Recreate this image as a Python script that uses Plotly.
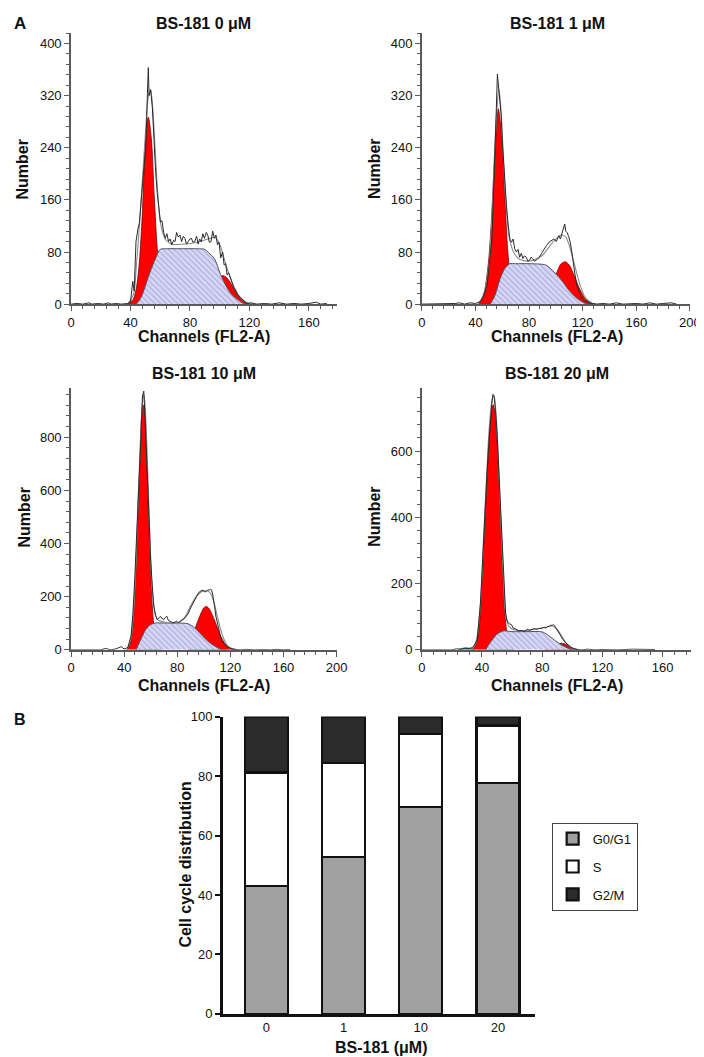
import plotly.graph_objects as go

# ---------------- DATA ----------------
# Panel 1: BS-181 0 uM
p1_data_ch = [0, 4, 8, 12, 14, 18, 22, 25, 27, 30, 34, 38, 40, 41.5, 42.5, 43.7, 45, 46, 48, 50.3,
              51.4, 52, 52.5, 53.6, 54.7, 55.8, 57, 58, 59, 60.1, 61.2, 62.3, 63.4, 64.5, 65.6, 66.7,
              67.8, 69, 70, 71, 72.2, 73.3, 74.4, 75.5, 76.6, 77.7, 78.8, 80, 81, 82, 83.2, 84.5, 85.5,
              86.5, 87.6, 88.7, 89.8, 91, 92, 93, 94.2, 95.3, 96.4, 97.5, 98.5, 99.6, 100.7, 102, 103,
              104, 105, 106, 107.3, 108.5, 109.5, 110.6, 111.7, 113, 114, 115, 116, 118.3, 121, 125,
              130, 135, 140, 145, 150, 155, 160, 165, 168, 172]
p1_data_val = [0, 1, 0, 2, 0, 1, 0, 2, 0, 1, 0, 1, 3, 35, 20, 96, 115, 125, 181, 242,
               323, 363, 320, 328, 302, 242, 200, 171, 150, 126, 128, 110, 101, 108, 96, 100,
               91, 98, 96, 110, 103, 106, 96, 104, 101, 92, 96, 100, 101, 95, 96, 104, 92,
               100, 96, 108, 101, 110, 106, 95, 96, 112, 101, 106, 91, 95, 71, 80, 60,
               62, 45, 48, 40, 32, 25, 22, 15, 12, 10, 7, 5, 1, 2, 0,
               1, 0, 2, 0, 1, 0, 1, 3, 0, 1]
p1_fit_ch = [38, 42, 44, 46, 48, 50, 52, 53.5, 55, 57, 59, 61, 64, 68, 75, 85, 92, 97, 100, 103,
             106, 110, 114, 118, 122]
p1_fit_val = [0, 15, 60, 120, 190, 260, 318, 330, 300, 220, 150, 115, 98, 92, 92, 95, 100, 102, 92, 70,
              48, 25, 10, 3, 0]
p1_g1_ch = [38, 40, 42, 44, 46, 48, 50, 52, 54, 56, 58, 60, 62, 64]
p1_g1_val = [0, 3, 8, 25, 65, 140, 245, 287, 255, 165, 85, 38, 12, 0]
p1_s_ch = [43.7, 46, 48, 50, 52.5, 55, 57, 60, 65, 75, 85, 90, 93, 96.4, 100.7, 105, 108, 111.7, 116, 118]
p1_s_val = [0, 6, 15, 28, 45, 60, 71, 84, 85, 85, 85, 84, 78, 70, 45, 25, 15, 7.5, 1, 0]
p1_g2_ch = [90, 94, 98, 100, 102, 104, 106, 108, 112, 116, 120]
p1_g2_val = [5, 15, 32, 40, 44, 42, 37, 30, 14, 4, 0]

# Panel 2: BS-181 1 uM
p2_data_ch = [0, 10, 20, 25, 28, 32, 36, 40, 43.8, 46, 48.7, 50.5, 52.3, 53.5, 54.7, 55.6, 56.4, 57.4,
              58.4, 59.2, 60, 61, 62, 63.2, 64.5, 65.7, 66.9, 68.1, 69.3, 70.6, 71.8, 73, 74.2, 75.4,
              76.6, 77.9, 79.1, 80.3, 81.5, 82.7, 84, 85.2, 86.4, 87.6, 89.4, 91.2, 93, 94.9, 96.7,
              98.5, 100.3, 102.2, 103.4, 104.6, 105.6, 106.6, 107.4, 108.3, 109.5, 110.7, 111.9,
              113.1, 114.3, 115.6, 117.4, 119.2, 121.6, 124, 127, 130, 135, 140, 145, 150, 160, 165,
              170, 175, 180, 186, 190]
p2_data_val = [0, 0, 0, 1, 2, 0, 2, 1, 4, 12, 29, 60, 100, 170, 232, 300, 353, 328, 302, 290,
               252, 220, 181, 150, 120, 100, 95, 100, 85, 80, 84, 72, 78, 70, 74, 72, 66, 67, 72, 70,
               66, 67, 70, 72, 78, 85, 90, 95, 98, 100, 96, 105, 100, 110, 115, 123, 112, 110, 104, 95,
               80, 60, 45, 29, 18, 9, 5, 2.5, 1, 0, 1, 0, 2, 0, 1, 0, 2, 0, 1, 2, 0]
p2_fit_ch = [42, 46, 50, 52, 54, 56, 57.5, 59, 61, 63, 65, 68, 72, 78, 84, 90, 95, 100, 104, 107,
             110, 114, 118, 122, 128]
p2_fit_val = [0, 15, 60, 120, 220, 300, 330, 300, 220, 150, 105, 82, 70, 66, 68, 75, 88, 100, 106, 104,
              90, 60, 30, 10, 0]
p2_g1_ch = [42, 46, 48, 50, 52, 54, 56, 57, 58, 60, 62, 64, 66, 68, 70, 74]
p2_g1_val = [0, 12, 35, 70, 130, 210, 280, 300, 290, 240, 160, 85, 40, 15, 5, 0]
p2_s_ch = [51, 54.7, 58.4, 62, 65.7, 70, 80, 92.5, 97.3, 103.4, 109.5, 115.6, 121.7, 126.5]
p2_s_val = [0, 14, 39, 55, 62, 62, 62, 60, 52, 39, 22, 9, 1.5, 0]
p2_g2_ch = [92, 96, 100, 104, 107, 110, 114, 118, 122, 126, 130]
p2_g2_val = [5, 20, 45, 62, 65, 60, 42, 22, 8, 2, 0]

# Panel 3: BS-181 10 uM
p3_data_ch = [0, 22, 26, 30, 34, 37.8, 40, 42.8, 45.2, 46.5, 47.7, 49, 50.1, 51.4, 52.6, 53.8, 54.8,
              55.8, 56.6, 57.5, 58.7, 60, 61.2, 62.4, 63.6, 64.9, 66.1, 67.3, 68.5, 69.8, 71, 72.2,
              73.4, 74.7, 75.9, 77.1, 78.4, 79.6, 80.8, 82, 83.3, 84.5, 85.7, 87, 88.2, 89.4, 90.7,
              91.9, 93.1, 94.3, 95.5, 96.8, 98, 99.3, 100.5, 101.7, 103, 104.2, 105.1, 105.9, 106.6,
              107.4, 108.2, 109.1, 110.3, 111.5, 112.8, 114, 115.8, 117.7, 120, 122.6, 125, 127.5,
              132, 138, 145, 150, 155, 160, 165]
p3_data_val = [0, 0, 5, 0, 4, 12, 3, 9, 52, 130, 237, 370, 509, 650, 794, 955, 973, 868, 760, 645,
               490, 336, 240, 163, 130, 114, 120, 126, 118, 114, 122, 126, 110, 108, 104, 101, 106,
               108, 102, 108, 112, 114, 120, 126, 135, 151, 165, 176, 190, 200, 210, 219, 222, 225,
               218, 219, 226, 225, 228, 225, 210, 188, 160, 126, 95, 64, 45, 33, 20, 12, 6, 2.5, 1,
               0, 2, 0, 1, 0, 2, 0, 1]
p3_fit_ch = [42, 45, 48, 50, 52, 54, 55, 56, 58, 60, 62, 65, 70, 76, 82, 86, 90, 95, 100, 104, 107,
             110, 114, 118, 124]
p3_fit_val = [0, 40, 220, 480, 760, 940, 960, 900, 640, 340, 180, 115, 105, 100, 105, 125, 165, 205,
              222, 218, 190, 130, 55, 15, 0]
p3_g1_ch = [42, 44, 46, 48, 50, 52, 54, 55, 56, 58, 60, 62, 64, 66, 68]
p3_g1_val = [0, 15, 60, 200, 440, 720, 915, 920, 860, 560, 280, 110, 35, 8, 0]
p3_s_ch = [48.9, 52.6, 56.3, 60, 63.6, 70, 80, 88.2, 93.1, 98, 103, 107.9, 112.8, 117.7]
p3_s_val = [0, 40, 77, 95, 101, 101, 101, 98, 83, 58, 33, 15, 2.5, 0]
p3_g2_ch = [88, 92, 96, 100, 102, 104, 108, 112, 116, 120, 124]
p3_g2_val = [20, 60, 115, 158, 163, 155, 112, 60, 22, 5, 0]

# Panel 4: BS-181 20 uM
p4_data_ch = [0, 20, 23, 26, 29, 31, 33.6, 35.2, 36.9, 38, 39, 40.1, 41.2, 42.3, 43.4, 44.5, 45.5,
              46.5, 47.3, 48.1, 49, 49.9, 51, 52, 53.1, 54.2, 55, 55.7, 56.6, 57.5, 58.5, 59.6, 60.7,
              61.8, 62.9, 64, 65, 66.1, 67.2, 68.3, 69.4, 70.5, 71.5, 72.6, 73.7, 74.8, 75.9, 77, 78,
              79.1, 80.2, 81.3, 82.4, 83.5, 84.6, 85.6, 86.7, 87.5, 88.2, 89.1, 90, 91, 92.1, 93.7,
              95.4, 97, 98.6, 100.2, 101.9, 104, 106.2, 110, 115, 120, 130, 140, 150, 155]
p4_data_val = [0, 0, 3, 2, 5, 3, 7, 15, 32, 80, 141, 240, 349, 440, 537, 620, 686, 740, 771, 766,
               720, 666, 560, 458, 350, 250, 170, 111, 90, 81, 78, 76, 66, 64, 61, 58, 57, 59, 57, 55,
               60, 62, 59, 61, 61, 64, 63, 62, 65, 64, 66, 68, 66, 70, 71, 74, 74, 76, 73, 66,
               57, 50, 42, 32, 22, 15, 10, 5, 2, 1, 0, 2, 0, 1, 0, 2, 0, 1]
p4_fit_ch = [33, 36, 39, 41, 43, 45, 47, 48, 50, 52, 54, 56, 58, 62, 68, 75, 82, 87, 90, 93, 96, 100, 104]
p4_fit_val = [0, 25, 140, 330, 520, 680, 760, 765, 660, 450, 240, 100, 70, 60, 58, 62, 68, 72, 62, 42,
              20, 5, 0]
p4_g1_ch = [33, 36, 38, 40, 42, 44, 46, 47.5, 49, 51, 53, 55, 57, 59, 61]
p4_g1_val = [0, 15, 60, 200, 390, 570, 705, 740, 700, 540, 320, 120, 40, 10, 0]
p4_s_ch = [42.3, 45.5, 49.9, 54.2, 60, 70, 80.2, 84.6, 88.9, 93.2, 97.6, 100.8]
p4_s_val = [0, 22, 47, 57, 55, 55, 54, 42, 27, 14, 4, 0]
p4_g2_ch = [82, 86, 90, 93, 96, 100, 104]
p4_g2_val = [2, 8, 16, 20, 16, 6, 0]
p4_debris_ch = [24, 27, 30, 33, 35]
p4_debris_val = [0, 5, 6, 4, 0]

panel_titles = ["BS-181 0 μM", "BS-181 1 μM", "BS-181 10 μM", "BS-181 20 μM"]

# Panel B: stacked bars
doses = ["0", "1", "10", "20"]
g0g1 = [42.9, 52.8, 69.6, 77.6]
s_phase = [38.3, 31.6, 24.5, 19.4]
g2m = [18.8, 15.6, 5.9, 3.0]

# ---------------- FIGURE ----------------
W, H = 704, 1057
FONT = "Liberation Sans, Arial, sans-serif"


def fx(p):
    return p / W


def fy(p):
    return 1 - p / H


fig = go.Figure()

RED = "#ff0000"
panels = [
    (1, p1_data_ch, p1_data_val, p1_fit_ch, p1_fit_val, p1_g1_ch, p1_g1_val, p1_s_ch, p1_s_val, p1_g2_ch, p1_g2_val),
    (2, p2_data_ch, p2_data_val, p2_fit_ch, p2_fit_val, p2_g1_ch, p2_g1_val, p2_s_ch, p2_s_val, p2_g2_ch, p2_g2_val),
    (3, p3_data_ch, p3_data_val, p3_fit_ch, p3_fit_val, p3_g1_ch, p3_g1_val, p3_s_ch, p3_s_val, p3_g2_ch, p3_g2_val),
    (4, p4_data_ch, p4_data_val, p4_fit_ch, p4_fit_val, p4_g1_ch, p4_g1_val, p4_s_ch, p4_s_val, p4_g2_ch, p4_g2_val),
]

for (k, dch, dv, fch, fv, g1c, g1v, sc, sv, g2c, g2v) in panels:
    xa = "x" if k == 1 else f"x{k}"
    ya = "y" if k == 1 else f"y{k}"
    common = dict(xaxis=xa, yaxis=ya, showlegend=False, hoverinfo="skip")
    fig.add_trace(go.Scatter(x=g1c, y=g1v, mode="lines", fill="tozeroy", fillcolor=RED,
                             line=dict(color="#7a0000", width=0.8, shape="spline", smoothing=0.8), **common))
    fig.add_trace(go.Scatter(x=g2c, y=g2v, mode="lines", fill="tozeroy",
                             fillcolor=RED if k != 4 else "#c01010",
                             line=dict(color="#7a0000", width=0.8, shape="spline", smoothing=0.8), **common))
    if k == 4:
        fig.add_trace(go.Scatter(x=p4_debris_ch, y=p4_debris_val, mode="lines", fill="tozeroy",
                                 fillcolor="#2a8a80",
                                 line=dict(color="#1f5f58", width=0.6, shape="spline"), **common))
    fig.add_trace(go.Scatter(x=sc, y=sv, mode="lines", fill="tozeroy", fillcolor="#d6d6f4",
                             fillpattern=dict(shape="\\", fgcolor="#8080cc", bgcolor="#d8d8f5",
                                              size=4, solidity=0.3),
                             line=dict(color="#505060", width=1, shape="spline", smoothing=0.8), **common))
    fig.add_trace(go.Scatter(x=fch, y=fv, mode="lines",
                             line=dict(color="#8a8a8a", width=1.1, shape="spline", smoothing=0.9), **common))
    fig.add_trace(go.Scatter(x=dch, y=dv, mode="lines",
                             line=dict(color="#2a2a2a", width=1), **common))

# Bars
bar_x = list(range(len(doses)))
fig.add_trace(go.Bar(x=bar_x, y=g0g1, name="G0/G1", marker=dict(color="#a0a0a0", line=dict(color="#111", width=2.2)),
                     width=0.557, xaxis="x5", yaxis="y5", legendgroup="a", hoverinfo="skip"))
fig.add_trace(go.Bar(x=bar_x, y=s_phase, name="S", marker=dict(color="#ffffff", line=dict(color="#111", width=2.2)),
                     width=0.557, xaxis="x5", yaxis="y5", legendgroup="b", hoverinfo="skip"))
fig.add_trace(go.Bar(x=bar_x, y=g2m, name="G2/M", marker=dict(color="#2b2b2b", line=dict(color="#111", width=2.2)),
                     width=0.557, xaxis="x5", yaxis="y5", legendgroup="c", hoverinfo="skip"))

AX = "#5a5a5a"
tickfont = dict(family=FONT, size=13, color="#111")


def hist_x(domain, rng, anchor):
    return dict(domain=domain, range=rng, anchor=anchor, showline=True, linecolor=AX, linewidth=1.6,
                ticks="outside", ticklen=5, tickwidth=1.3, tickcolor=AX, tick0=0, dtick=40,
                minor=dict(ticks="outside", ticklen=3, tickwidth=1, tickcolor=AX, dtick=8),
                showgrid=False, zeroline=False, tickfont=tickfont, fixedrange=True)


def hist_y(domain, rng, anchor, dtick, mdtick):
    return dict(domain=domain, range=rng, anchor=anchor, showline=True, linecolor=AX, linewidth=1.6,
                ticks="outside", ticklen=5, tickwidth=1.3, tickcolor=AX, tick0=0, dtick=dtick,
                minor=dict(ticks="outside", ticklen=3, tickwidth=1, tickcolor=AX, dtick=mdtick),
                showgrid=False, zeroline=False, tickfont=tickfont, fixedrange=True)


top_dom = [fy(293.3), fy(18.3)]
bot_dom = [fy(644), fy(378.4)]
left_dom1 = [fx(60.3), fx(332.2)]
left_dom3 = [fx(60.3), fx(331.7)]
right_dom2 = [fx(418.7), fx(692.7)]
right_dom4 = [fx(418.7), fx(693.9)]

fig.update_layout(
    width=W, height=H,
    margin=dict(l=0, r=0, t=0, b=0),
    paper_bgcolor="white", plot_bgcolor="rgba(0,0,0,0)",
    font=dict(family=FONT, color="#111"),
    barmode="stack",
    xaxis=hist_x(left_dom1, [0, 179], "y"),
    yaxis=hist_y(top_dom, [0, 416], "x", 80, 16),
    xaxis2=hist_x(right_dom2, [0, 200], "y2"),
    yaxis2=hist_y(top_dom, [0, 416], "x2", 80, 16),
    xaxis3=hist_x(left_dom3, [0, 200], "y3"),
    yaxis3=hist_y(bot_dom, [0, 985], "x3", 200, 40),
    xaxis4=hist_x(right_dom4, [0, 179], "y4"),
    yaxis4=hist_y(bot_dom, [0, 790], "x4", 200, 40),
    xaxis5=dict(domain=[fx(215.5), fx(534.4)], range=[-0.564, 3.479], anchor="y5",
                tickmode="array", tickvals=bar_x, ticktext=doses,
                showline=True, linecolor="#111", linewidth=2.5, ticks="", showgrid=False, zeroline=False,
                tickfont=dict(family=FONT, size=13, color="#111"), fixedrange=True),
    yaxis5=dict(domain=[fy(1013.3), fy(711.7)], range=[0, 100], anchor="x5",
                showline=True, linecolor="#111", linewidth=2.5, ticks="outside", ticklen=5, tickwidth=2,
                tickcolor="#111", dtick=20, showgrid=False, zeroline=False,
                tickfont=dict(family=FONT, size=13, color="#111"), fixedrange=True),
    legend=dict(x=fx(551.4), y=fy(819.3), xanchor="left", yanchor="top",
                bordercolor="#444", borderwidth=1, bgcolor="white",
                font=dict(family=FONT, size=13, color="#111"),
                traceorder="grouped", tracegroupgap=8),
    showlegend=True,
)

ann = []


def text(x, y, s, size, bold=True, angle=0):
    ann.append(dict(x=fx(x), y=fy(y), xref="paper", yref="paper", text=f"<b>{s}</b>" if bold else s,
                    showarrow=False, textangle=angle, xanchor="center", yanchor="middle",
                    font=dict(family=FONT, size=size, color="#111")))


# panel titles
text(196, 9, panel_titles[0], 16)
text(557, 9, panel_titles[1], 16)
text(196.5, 364, panel_titles[2], 16)
text(557, 364, panel_titles[3], 16)
# x titles
for (x, y) in [(196.5, 326), (557, 326), (196.5, 680), (557, 680)]:
    text(x, y, "Channels (FL2-A)", 16)
# y titles
for (x, y) in [(11, 157), (371, 156), (13, 510), (371, 509)]:
    text(x, y, "Number", 16, angle=-90)
# panel letters
ann.append(dict(x=fx(0), y=fy(9), xref="paper", yref="paper", text="<b>A</b>", showarrow=False,
                xanchor="left", yanchor="middle", font=dict(family=FONT, size=17, color="#111")))
ann.append(dict(x=fx(0), y=fy(715), xref="paper", yref="paper", text="<b>B</b>", showarrow=False,
                xanchor="left", yanchor="middle", font=dict(family=FONT, size=16, color="#111")))
# bar axis titles
text(177.5, 862, "Cell cycle distribution", 16, angle=-90)
text(377, 1047, "BS-181 (μM)", 16)

fig.update_layout(annotations=ann)

fig.write_html("out.html")
